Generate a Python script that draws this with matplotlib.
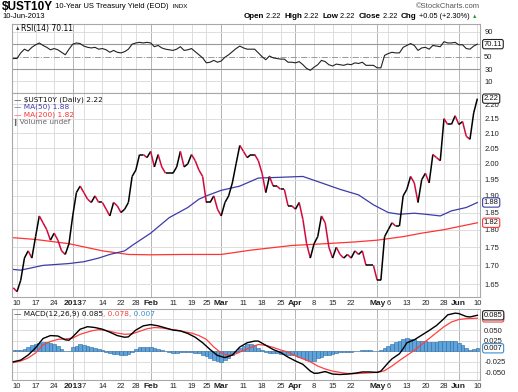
#$UST10Y daily chart with RSI and MACD panels
import numpy as np
import matplotlib
matplotlib.use('Agg')
import matplotlib.pyplot as plt
from matplotlib.collections import LineCollection
from matplotlib.ticker import FixedLocator, NullLocator, FixedFormatter

plt.rcParams['font.family'] = ['Liberation Sans', 'DejaVu Sans']

# trading days from 7-Dec-2012 (day 0) to 10-Jun-2013 (day 125)
close = [1.64,1.63,1.66,1.72,1.74,1.72,1.78,1.84,1.82,1.80,
         1.77,1.79,1.77,1.74,1.73,1.76,1.84,1.91,1.93,1.91,
         1.89,1.88,1.90,1.88,1.88,1.86,1.84,1.88,1.87,1.85,
         1.86,1.88,1.96,1.98,2.03,2.03,2.02,2.04,1.99,2.03,
         1.99,1.97,1.97,1.97,1.99,2.04,1.99,2.00,2.03,2.01,
         1.98,1.96,1.88,1.88,1.90,1.86,1.84,1.88,1.90,1.94,
         2.00,2.06,2.04,2.02,2.03,2.03,2.01,1.97,1.91,1.96,
         1.93,1.93,1.92,1.92,1.87,1.87,1.86,1.88,1.83,1.76,
         1.72,1.76,1.78,1.84,1.82,1.75,1.72,1.75,1.73,1.72,
         1.73,1.72,1.74,1.73,1.74,1.70,1.70,1.70,1.66,1.66,
         1.78,1.80,1.82,1.81,1.81,1.90,1.92,1.96,1.94,1.88,
         1.95,1.97,1.94,2.03,2.02,2.01,2.15,2.13,2.13,2.16,
         2.13,2.14,2.09,2.08,2.17,2.22]

ma50_day = [0,2,8,15,19,23,26,30,32,37,42,47,50,52,56,61,66,71,78,83,88,93,97,101,104,108,111,115,118,122,125]
ma50 = [1.689,1.687,1.70,1.705,1.71,1.72,1.73,1.74,1.755,1.79,1.835,1.865,1.89,1.90,1.917,1.93,1.955,1.957,1.96,1.94,1.92,1.903,1.873,1.85,1.845,1.848,1.845,1.84,1.855,1.865,1.88]

ma200_day = [0,6,15,24,31,37,46,56,64,75,84,92,98,105,110,116,125]
ma200 = [1.777,1.772,1.76,1.74,1.73,1.729,1.73,1.73,1.742,1.755,1.76,1.765,1.77,1.78,1.79,1.80,1.82]

rsi = [47,47,56,62,59,65,69,72,68,65,
       61,63,61,57,53,62,70,72,71,67,
       65,64,65,62,63,61,57,60,57,56,
       58,62,70,72,73,72,73,72,66,68,
       64,62,61,60,62,66,60,61,63,58,
       53,48,40,41,44,41,43,49,53,58,
       63,67,64,62,62,62,56,50,45,51,
       48,47,46,46,41,41,40,42,37,31,
       28,33,37,44,42,37,35,38,37,36,
       38,37,40,39,41,36,36,36,32,32,
       52,55,57,56,56,65,68,71,68,60,
       64,65,62,68,67,66,74,72,72,73,
       69,69,63,62,67,70.11]

macd_day = [0,2,4,6,8,10,12,14,15,16,18,20,22,24,26,28,30,31,33,35,37,39,41,43,45,47,49,51,53,55,57,59,61,63,65,66,
            68,70,72,74,76,78,80,81,82,84,86,88,90,92,94,96,98,99,101,102,104,105,106,108,110,112,114,116,117,119,120,122,123,125]
macd = [-0.025,-0.021,-0.009,0.008,0.030,0.037,0.036,0.027,0.026,0.034,0.052,0.058,0.056,0.052,0.045,0.037,0.033,0.034,
        0.050,0.060,0.063,0.060,0.055,0.050,0.048,0.042,0.033,0.020,0.004,-0.010,-0.015,-0.009,0.010,0.020,0.024,0.024,
        0.014,0.004,-0.003,-0.014,-0.023,-0.031,-0.047,-0.052,-0.052,-0.048,-0.054,-0.055,-0.054,-0.052,-0.049,-0.049,
        -0.050,-0.047,-0.027,-0.018,-0.006,0.006,0.020,0.027,0.038,0.049,0.061,0.077,0.086,0.090,0.089,0.082,0.081,0.085]

sig_day = [0,2,4,6,8,10,12,14,16,18,21,23,25,28,30,32,34,36,38,40,42,44,46,48,50,52,54,56,58,60,62,64,66,
           68,70,72,74,76,78,80,82,84,86,88,90,92,94,96,98,100,102,104,106,108,110,112,114,116,118,120,122,125]
sig = [-0.027,-0.023,-0.016,-0.004,0.015,0.023,0.028,0.029,0.031,0.040,0.048,0.051,0.049,0.043,0.040,0.041,0.047,
       0.053,0.056,0.055,0.052,0.050,0.046,0.043,0.037,0.028,0.010,-0.004,-0.010,-0.006,0.002,0.009,0.016,
       0.014,0.009,0.003,-0.002,-0.011,-0.018,-0.025,-0.035,-0.042,-0.047,-0.050,-0.053,-0.053,-0.052,-0.051,
       -0.050,-0.046,-0.035,-0.022,-0.010,0.002,0.016,0.030,0.044,0.058,0.069,0.075,0.077,0.078]

hist = [0.002,0.002,0.003,0.006,0.011,0.015,0.017,0.020,0.021,0.022,
        0.019,0.017,0.012,0.006,0.001,0.000,0.010,0.013,0.016,0.015,
        0.013,0.010,0.007,0.006,0.003,-0.002,-0.004,-0.006,-0.006,-0.008,
        -0.008,-0.006,-0.002,0.005,0.009,0.010,0.011,0.010,0.008,0.006,
        0.002,0.001,-0.002,-0.004,-0.004,-0.003,-0.002,-0.002,-0.003,-0.004,
        -0.005,-0.008,-0.011,-0.017,-0.021,-0.024,-0.025,-0.021,-0.015,-0.009,
        -0.001,0.008,0.013,0.016,0.017,0.014,0.008,0.002,-0.002,-0.005,
        -0.005,-0.005,-0.006,-0.007,-0.008,-0.009,-0.010,-0.013,-0.017,-0.021,
        -0.024,-0.022,-0.017,-0.013,-0.010,-0.008,-0.006,-0.005,-0.003,-0.002,
        -0.002,-0.001,0.000,0.001,0.002,0.002,0.002,0.001,0.000,0.002,
        0.007,0.013,0.017,0.021,0.025,0.029,0.031,0.030,0.028,0.025,
        0.024,0.023,0.021,0.021,0.021,0.023,0.025,0.025,0.025,0.023,
        0.019,0.014,0.008,0.004,0.005,0.007]

tick_day = [1,6,11,16,19,24,29,33,37,43,48,52,56,62,67,72,76,81,86,91,98,101,106,111,116,120,125]
tick_lab = ['10','17','24','2013','7','14','22','28','Feb','11','19','25','Mar','11','18','25',
            'Apr','8','15','22','May','6','13','20','28','Jun','10']
months = ['2013','Feb','Mar','Apr','May','Jun']

W, H = 518, 392
fig = plt.figure(figsize=(W/100, H/100), dpi=100)
fig.patch.set_facecolor('white')

def box(top, bot):
    return [12/W, 1-bot/H, 468/W, (bot-top)/H]

ax_r = fig.add_axes(box(24, 93))
ax = fig.add_axes(box(93, 297))
ax_m = fig.add_axes(box(309, 380))

x = np.arange(len(close))
up_c = '#000000'
dn_c = '#d10a3c'
blue = '#3c3ca8'
red = '#ff3333'

for a in (ax_r, ax, ax_m):
    a.set_xlim(-0.35, 125.7)
    for d, l in zip(tick_day, tick_lab):
        a.axvline(d, color='#b4b4b4' if l in months else '#dddddd', lw=0.7, zorder=0)
    for s in a.spines.values():
        s.set_color('#a8a8a8')
        s.set_linewidth(0.8)
    a.yaxis.tick_right()
    a.tick_params(axis='y', length=0, pad=3, labelsize=5.5, labelcolor='#222222')
    a.tick_params(axis='x', length=0, pad=2, labelsize=5.5, labelcolor='#222222')
    a.set_xticks(tick_day)
    a.set_xticklabels(tick_lab)
    for t in a.get_xticklabels():
        if t.get_text() in months:
            t.set_fontweight('bold')
            t.set_fontsize(6)
ax_r.set_xticklabels([])

# RSI panel (70 label sits under the value tag)
ax_r.set_ylim(-8.5, 102.5)
ax_r.set_yticks([10, 30, 50, 90])
for v in (10, 90):
    ax_r.axhline(v, color='#dddddd', lw=0.7, zorder=0)
ax_r.axhline(70, color='#999999', lw=0.8, zorder=1)
ax_r.axhline(30, color='#999999', lw=0.8, zorder=1)
ax_r.axhline(50, color='#999999', lw=0.7, ls='-.', zorder=1)
ax_r.plot(x, rsi, color='#222222', lw=0.8, zorder=3)

# price panel (log scale)
ax.set_yscale('log')
ax.set_ylim(1.6161, 2.2401)
pt = [1.65, 1.70, 1.75, 1.80, 1.85, 1.90, 1.95, 2.00, 2.05, 2.10, 2.15, 2.20]
lab_pt = [v for v in pt if v not in (1.90, 1.80)] + [1.90, 1.80]
ax.yaxis.set_major_locator(FixedLocator(pt))
ax.yaxis.set_major_formatter(FixedFormatter(['%.2f' % v for v in pt]))
ax.yaxis.set_minor_locator(NullLocator())
for v in pt:
    ax.axhline(v, color='#dddddd', lw=0.7, zorder=0)
ax.plot(ma200_day, ma200, color=red, lw=0.9, zorder=2)
ax.plot(ma50_day, ma50, color=blue, lw=0.9, zorder=2)
segs = [[(x[i], close[i]), (x[i+1], close[i+1])] for i in range(len(close)-1)]
cols = [dn_c if close[i+1] < close[i] else up_c for i in range(len(close)-1)]
ax.add_collection(LineCollection(segs, colors=cols, linewidths=1.1, zorder=3))

# MACD panel (0.075 and 0.000 labels sit under the value tags)
ax_m.set_ylim(-0.068, 0.0998)
mt = [-0.05, -0.025, 0.0, 0.025, 0.05, 0.075]
ax_m.set_yticks([-0.05, -0.025, 0.025, 0.05])
ax_m.set_yticklabels(['-0.050', '-0.025', '0.025', '0.050'])
for v in mt:
    ax_m.axhline(v, color='#dddddd', lw=0.7, zorder=0)
ax_m.bar(x, hist, width=1.0, color='#5ea3d9', edgecolor='#2c6aa3', linewidth=0.4, zorder=1)
ax_m.plot(sig_day, sig, color='#ff4040', lw=0.9, zorder=2)
ax_m.plot(macd_day, macd, color='#000000', lw=1.0, zorder=3)

# value tags on the right
def tag(a, v, s, ec, dy=0):
    tr = matplotlib.transforms.blended_transform_factory(a.transAxes, a.transData)
    a.text(1.008, v, s, transform=tr, ha='left', va='center', fontsize=5.5, color='#111111',
           clip_on=False, zorder=10,
           bbox=dict(boxstyle='round,pad=0.15,rounding_size=0.25', fc='white', ec=ec, lw=0.8))

tag(ax_r, 70.11, '70.11', '#222222')
tag(ax, 2.22, '2.22', '#222222')
tag(ax, 1.88, '1.88', blue)
tag(ax, 1.82, '1.82', red)
tag(ax_m, 0.080, '0.078', '#ff4040')
tag(ax_m, 0.085, '0.085', '#222222')
tag(ax_m, 0.007, '0.007', '#3b8fd0')

# header text
r = fig.canvas.get_renderer()

def row(x0, y, parts, right=False):
    ts = []
    xx = x0
    for s, kw in parts:
        t = fig.text(xx/W, 1-y/H, s, va='center', ha='left', **kw)
        xx += t.get_window_extent(r).width
        ts.append(t)
    if right:
        shift = (xx - x0)
        for t in ts:
            px, py = t.get_position()
            t.set_position((px - shift/W, py))

row(2, 7, [('$UST10Y', dict(fontsize=8.5, fontweight='bold')),
           (' 10-Year US Treasury Yield (EOD)', dict(fontsize=5.5)),
           ('  INDX', dict(fontsize=4.5))])
fig.text(2/W, 1-16/H, '10-Jun-2013', va='center', fontsize=5.5)
fig.text(480/W, 1-6/H, '\u00a9StockCharts.com', va='center', ha='right', fontsize=5.5, color='#555555')
bw = dict(fontsize=5.8, fontweight='bold')
nw = dict(fontsize=5.3)
row(477, 16, [('Open', bw), (' 2.22  ', nw), ('High', bw), (' 2.22  ', nw), ('Low', bw), (' 2.22  ', nw),
              ('Close', bw), (' 2.22  ', nw), ('Chg', bw), (' +0.05 (+2.30%) ', nw),
              ('\u25b2', dict(fontsize=4, color='#2a9a2a'))], right=True)

# panel legends
fig.text(15/W, 1-29/H, '\u25b2', fontsize=4, color='#333333', va='center')
fig.text(21/W, 1-29/H, 'RSI(14) 70.11', fontsize=5.5, family='DejaVu Sans', va='center')

leg = [('\u2014 $UST10Y (Daily) 2.22', '#111111'), ('\u2014 MA(50) 1.88', blue),
       ('\u2014 MA(200) 1.82', red), ('\u258eVolume undef', '#666666')]
for k, (s, c) in enumerate(leg):
    fig.text(14/W, 1-(99.5+7.6*k)/H, s, fontsize=5.3, family='DejaVu Sans', color=c, va='center')

row(14, 314, [('\u2014 MACD(12,26,9) 0.085', dict(fontsize=5.3, family='DejaVu Sans', color='#111111')),
              (', 0.078', dict(fontsize=5.3, family='DejaVu Sans', color='#ff4040')),
              (', 0.007', dict(fontsize=5.3, family='DejaVu Sans', color='#3b8fd0'))])

fig.savefig('out.png', dpi=100)
